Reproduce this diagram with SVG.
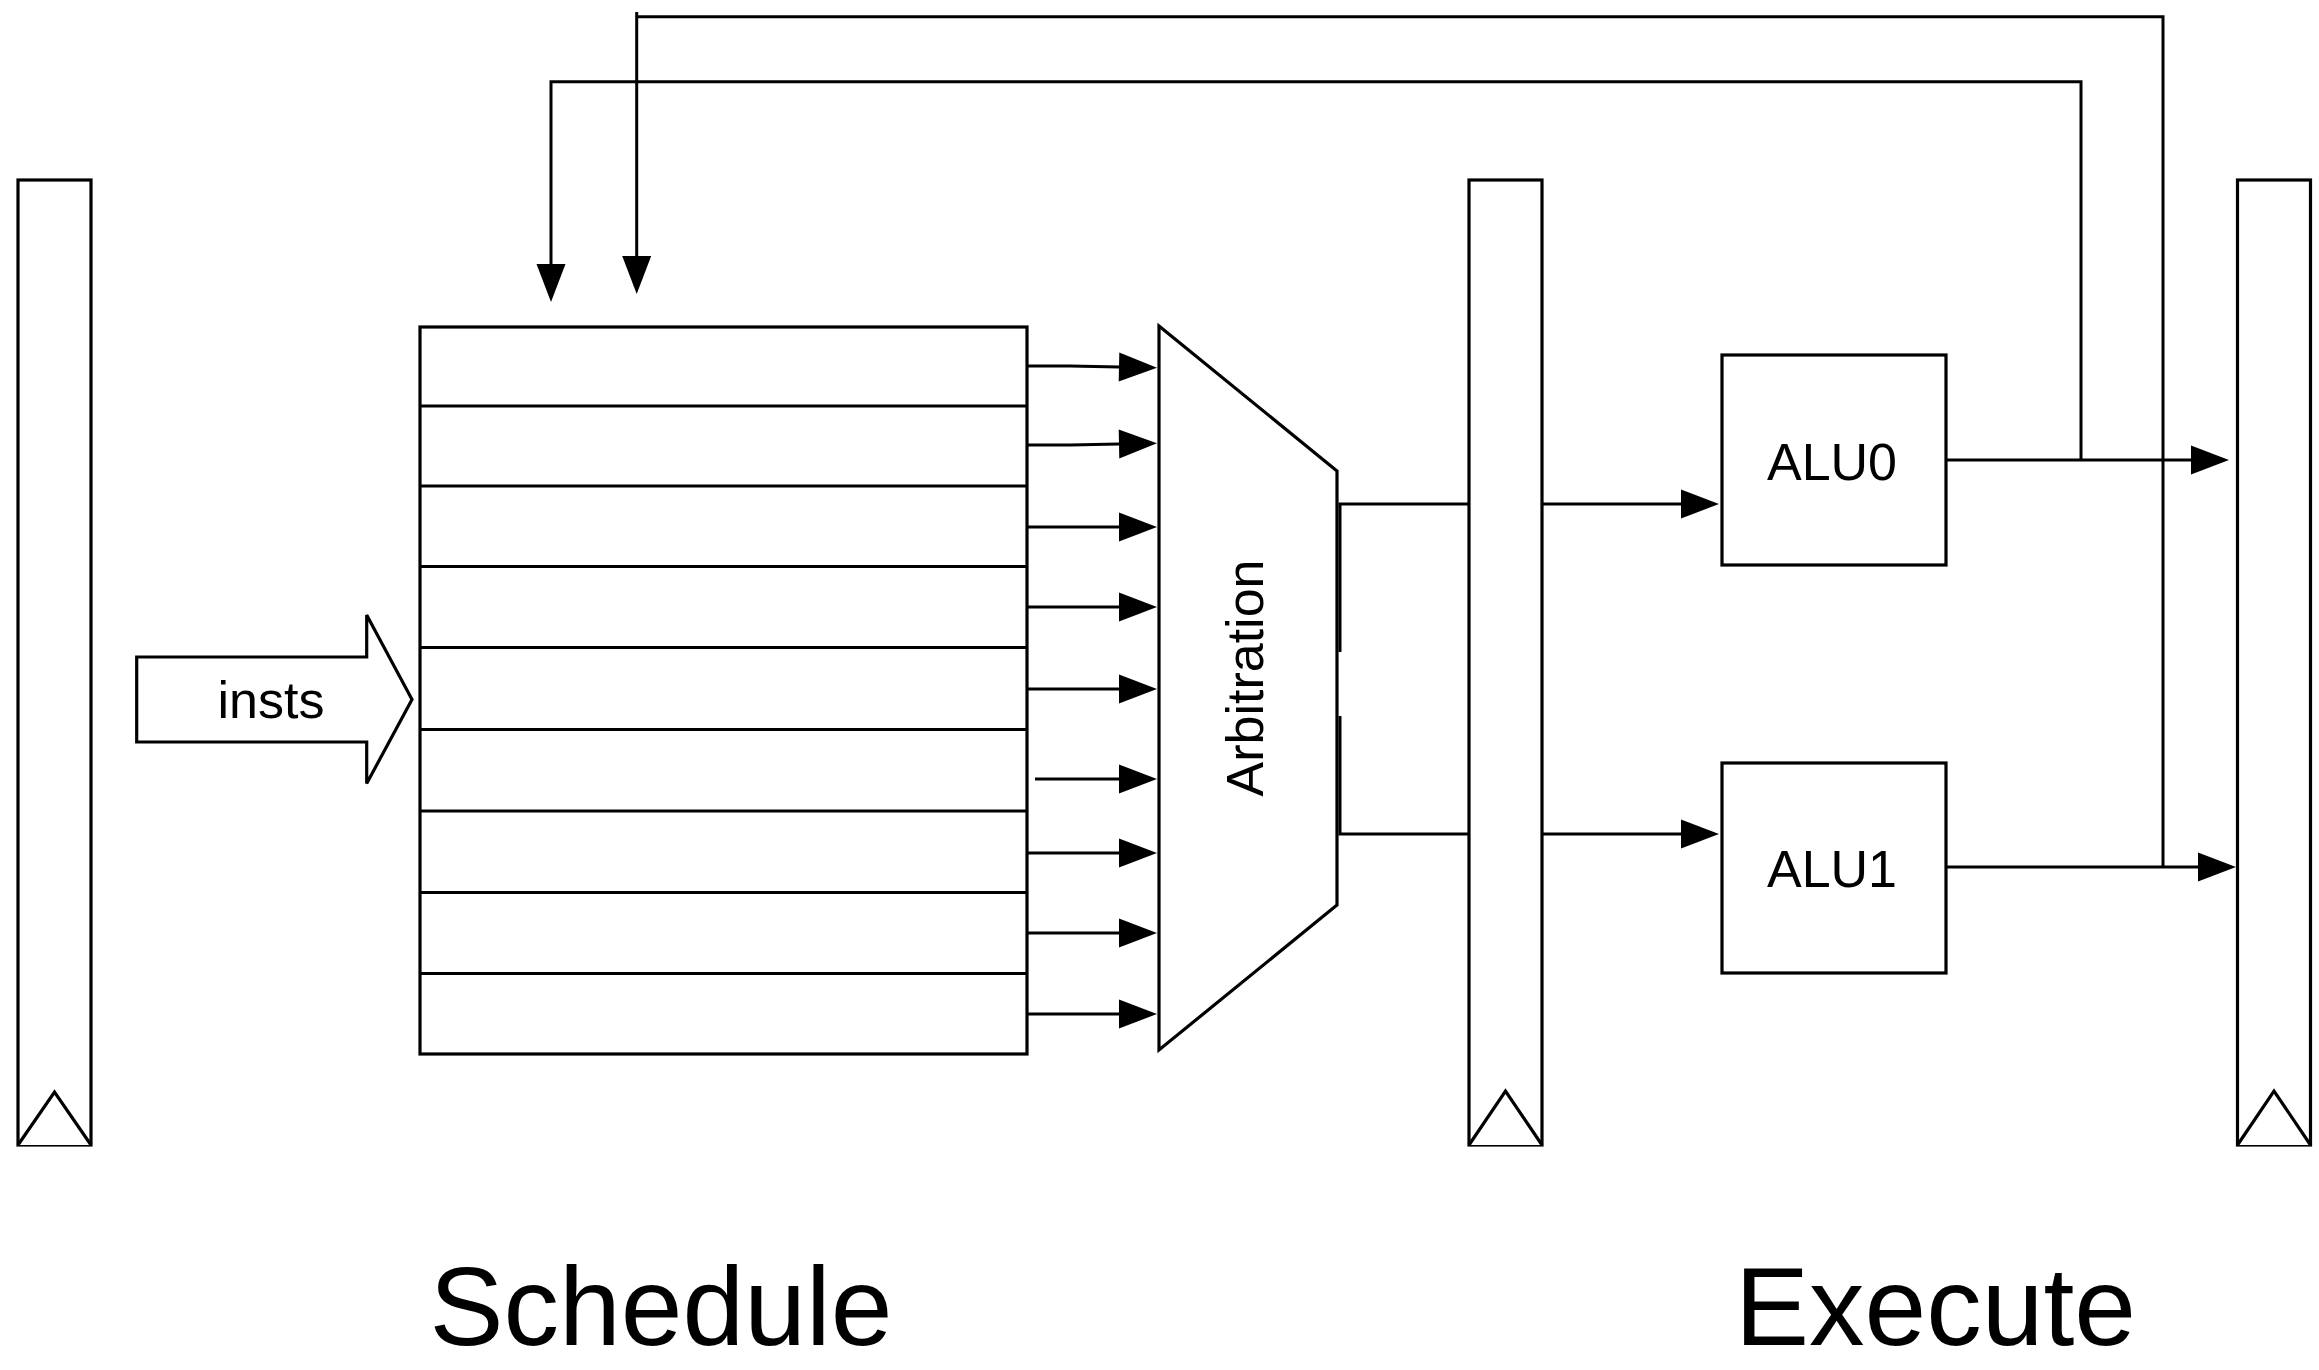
<svg xmlns="http://www.w3.org/2000/svg" width="2319" height="1370" viewBox="0 0 2319 1370">
  <style>
    .shape { fill: #ffffff; stroke: #000000; stroke-width: 3.2; stroke-linejoin: miter; }
    .wire { fill: none; stroke: #000000; stroke-width: 3; }
    .arrow { fill: none; stroke: #000000; stroke-width: 3; marker-end: url(#head); }
    .label { font-family: "Liberation Sans", Arial, Helvetica, sans-serif; fill: #000000; text-anchor: middle; }
    .small { font-size: 52px; }
    .big { font-size: 111px; }
  </style>
  <defs>
    <marker id="head" markerUnits="userSpaceOnUse" orient="auto" refX="0" refY="0" markerWidth="40" markerHeight="30" overflow="visible">
      <path d="M0,-14.5 L38,0 L0,14.5 Z" fill="#000000"/>
    </marker>
  </defs>
  <rect width="2319" height="1370" fill="#ffffff"/>

  <g id="reg-left">
    <rect class="shape" x="18" y="180" width="73" height="965"/>
    <polyline class="shape" fill="none" points="18,1145 54.5,1092 91,1145"/>
  </g>

  <g id="insts">
    <polygon class="shape" points="136.7,657 366.7,657 366.7,615 412,699.5 366.7,783.5 366.7,742 136.7,742"/>
    <text class="label small" x="271" y="718">insts</text>
  </g>

  <g id="queue">
    <rect class="shape" x="420" y="327" width="607" height="727"/>
    <path class="wire" d="M420,406 H1027 M420,486 H1027 M420,566.5 H1027 M420,647.5 H1027 M420,729.5 H1027 M420,811 H1027 M420,892.5 H1027 M420,973.5 H1027" stroke-width="3.6"/>
  </g>

  <g id="arbitration">
    <polygon class="shape" points="1159,326 1337,471 1337,905 1159,1050"/>
    <text class="label small" transform="translate(1263,678) rotate(-90)" x="0" y="0">Arbitration</text>
  </g>

  <g id="reg-mid">
    <rect class="shape" x="1469" y="180" width="73" height="965"/>
    <polyline class="shape" fill="none" points="1469,1145 1505.5,1091 1542,1145"/>
  </g>

  <g id="alu0">
    <rect class="shape" x="1722" y="355" width="224" height="210"/>
    <text class="label small" x="1832" y="480">ALU0</text>
  </g>

  <g id="alu1">
    <rect class="shape" x="1722" y="763" width="224" height="210"/>
    <text class="label small" x="1832" y="887">ALU1</text>
  </g>

  <g id="reg-right">
    <rect class="shape" x="2237.5" y="180" width="73" height="965"/>
    <polyline class="shape" fill="none" points="2237.5,1145 2274,1091 2310.5,1145"/>
  </g>

  <g id="connectors">
    <path class="arrow" d="M1027,366 H1070 L1119,367"/>
    <path class="arrow" d="M1027,445 H1070 L1119,444"/>
    <path class="arrow" d="M1027,527 H1119"/>
    <path class="arrow" d="M1027,607 H1119"/>
    <path class="arrow" d="M1027,689 H1119"/>
    <path class="arrow" d="M1035,779 H1119"/>
    <path class="arrow" d="M1027,853 H1119"/>
    <path class="arrow" d="M1027,933 H1119"/>
    <path class="arrow" d="M1027,1014 H1119"/>

    <path class="wire" d="M1340,652 V504 H1469"/>
    <path class="wire" d="M1340,716 V834 H1469"/>

    <path class="arrow" d="M1542,504 H1681"/>
    <path class="arrow" d="M1542,834 H1681"/>

    <path class="arrow" d="M1946,460 H2191"/>
    <path class="arrow" d="M1946,867 H2198"/>

    <path class="arrow" d="M2081,460 V81.7 H551 V264"/>
    <path class="arrow" d="M2163,867 V16.7 H636.7 M636.7,12 V256"/>
  </g>

  <g id="stage-labels">
    <text class="label big" x="661" y="1345">Schedule</text>
    <text class="label big" x="1935.5" y="1345">Execute</text>
  </g>
</svg>
